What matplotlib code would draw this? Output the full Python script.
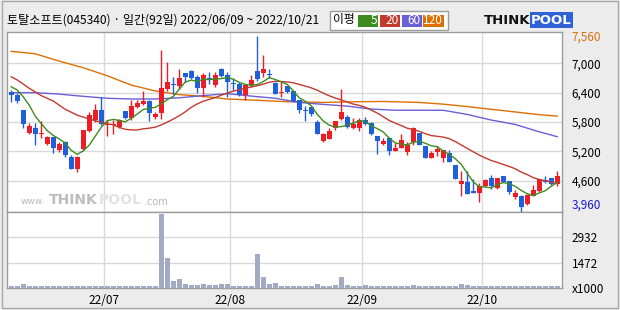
import numpy as np
import pandas as pd
import matplotlib
matplotlib.use('Agg')
import matplotlib.pyplot as plt
from matplotlib.patches import Rectangle

plt.rcParams['font.family'] = ['Noto Sans CJK KR', 'DejaVu Sans']

# --- data -------------------------------------------------------------
title = '토탈소프트(045340) · 일간(92일) 2022/06/09 ~ 2022/10/21'
holidays = ['2022-08-15', '2022-09-09', '2022-09-12', '2022-10-03', '2022-10-10']
dates = pd.bdate_range('2022-06-09', '2022-10-21')
dates = dates[~dates.isin(pd.to_datetime(holidays))]

opens = [6410, 6360, 6045, 5580, 5670, 5560, 5350, 5490, 5225, 5395,
         5085, 4835, 5245, 5615, 5840, 6040, 5740, 5740, 5690, 6025,
         5890, 6115, 6175, 6230, 5910, 5990, 6475, 6570, 6535, 6795,
         6840, 6725, 6490, 6700, 6555, 6875, 6760, 6605, 6570, 6350,
         6555, 6840, 6810, 6780, 6590, 6400, 6535, 6435, 6250, 6040,
         6105, 5805, 5410, 5450, 5685, 5860, 5900, 5670, 5685, 5835,
         5785, 5510, 5350, 5480, 5210, 5275, 5190, 5395, 5580, 5310,
         5070, 5190, 5055, 5165, 4920, 4535, 4565, 4395, 4355, 4490,
         4665, 4455, 4695, 4590, 4260, 4290, 4115, 4290, 4395, 4610,
         4655, 4530]
highs = [6455, 6400, 6045, 5785, 5785, 5820, 5510, 5500, 5395, 5410,
         5125, 5105, 5630, 5995, 6165, 6310, 5840, 5840, 5855, 6025,
         6240, 6240, 6435, 6250, 5995, 7280, 7035, 6725, 6885, 6795,
         6870, 6760, 6795, 6830, 6830, 6910, 6830, 6690, 6625, 6570,
         6760, 7560, 7170, 6875, 6625, 6625, 6535, 6435, 6250, 6125,
         6105, 5840, 5565, 5670, 5820, 6475, 5940, 5875, 5875, 5900,
         5805, 5510, 5480, 5500, 5375, 5555, 5395, 5695, 5585, 5310,
         5205, 5310, 5225, 5225, 4920, 4795, 4795, 4625, 4545, 4625,
         4715, 4660, 4695, 4590, 4410, 4305, 4320, 4510, 4635, 4695,
         4655, 4805]
lows = [6200, 6180, 5685, 5545, 5340, 5480, 5330, 5170, 5190, 5075,
        4845, 4785, 5225, 5600, 5805, 5740, 5510, 5545, 5670, 5855,
        5840, 6090, 6145, 5825, 5860, 5855, 6435, 6370, 6465, 6610,
        6670, 6400, 6315, 6570, 6520, 6725, 6315, 6455, 6330, 6240,
        6520, 6640, 6725, 6690, 6370, 6315, 6385, 6215, 5990, 5825,
        5930, 5555, 5395, 5450, 5635, 5840, 5670, 5655, 5615, 5740,
        5535, 5145, 5330, 5125, 5210, 5260, 5125, 5330, 5330, 5055,
        5055, 5105, 4985, 4985, 4635, 4290, 4325, 4355, 4170, 4475,
        4430, 4440, 4565, 4320, 4235, 3960, 4100, 4290, 4375, 4545,
        4510, 4495]
closes = [6345, 6220, 5765, 5715, 5560, 5580, 5500, 5275, 5355, 5130,
          4845, 5085, 5630, 5940, 6040, 5760, 5765, 5760, 5840, 5890,
          6125, 6190, 6230, 5975, 5970, 6495, 6615, 6555, 6705, 6715,
          6690, 6490, 6760, 6680, 6760, 6740, 6610, 6585, 6350, 6555,
          6660, 6670, 6890, 6760, 6370, 6410, 6420, 6230, 6045, 6015,
          5955, 5555, 5545, 5615, 5820, 5995, 5705, 5760, 5835, 5760,
          5555, 5415, 5415, 5210, 5275, 5430, 5330, 5670, 5330, 5070,
          5170, 5245, 5225, 4985, 4635, 4590, 4325, 4355, 4490, 4605,
          4490, 4645, 4580, 4375, 4340, 4065, 4305, 4410, 4625, 4565,
          4530, 4695]
# volume in thousands of shares
volumes = [136, 97, 213, 136, 136, 136, 136, 136, 97, 136,
           136, 97, 136, 136, 136, 136, 97, 97, 97, 136,
           136, 136, 136, 136, 97, 4300, 1725, 407, 504, 213,
           155, 155, 213, 155, 155, 213, 213, 97, 136, 136,
           136, 1958, 620, 213, 271, 136, 97, 136, 136, 136,
           97, 213, 97, 97, 155, 620, 155, 97, 97, 155,
           97, 97, 97, 97, 97, 97, 97, 155, 97, 97,
           97, 97, 97, 97, 97, 213, 155, 97, 97, 97,
           97, 97, 97, 97, 97, 97, 97, 97, 97, 97,
           97, 97]

# moving averages before their window fills
ma5_head = [6520, 6455, 6315, 6145]
ma20_head = [6725, 6660, 6575, 6490, 6415, 6340, 6285, 6230, 6145, 6060,
             6000, 5940, 5900, 5865, 5825, 5800, 5765, 5740, 5690]
# long moving averages at some days
ma60_day = [0, 4, 8, 12, 16, 20, 24, 28, 32, 36, 40, 44, 48, 52, 56, 60,
            64, 68, 72, 76, 80, 84, 88, 91]
ma60_val = [6400, 6400, 6370, 6325, 6285, 6270, 6270, 6295, 6340, 6380,
            6330, 6285, 6200, 6160, 6125, 6065, 6040, 6040, 6040, 5955,
            5840, 5750, 5600, 5500]
ma120_day = [0, 4, 8, 12, 16, 20, 24, 28, 32, 36, 40, 46, 52, 58, 62,
             68, 72, 76, 80, 84, 88, 91]
ma120_val = [7245, 7195, 7045, 6910, 6745, 6555, 6435, 6360, 6325, 6270,
             6250, 6215, 6200, 6215, 6220, 6200, 6165, 6115, 6060, 6005,
             5950, 5920]

price_ticks = [4600, 5200, 5800, 6400, 7000]
vol_ticks = [1472, 2932]
ma_names = ['5', '20', '60', '120']

# --- styling ----------------------------------------------------------
up_col, down_col = '#ee1c25', '#1f5fdc'
ma_cols = ['#3d8c1f', '#c23a2e', '#6a5fd6', '#dd7000']
grid_col = '#d9d9d9'
frame_col = '#9c9c9c'
W, H = 620, 310


def fx(px):
    return px / W


def fy(py):
    return 1 - py / H


fig = plt.figure(figsize=(6.2, 3.1), dpi=100, facecolor='#ececec')

ax = fig.add_axes([fx(7), fy(212), (562 - 7) / W, (212 - 32) / H])
axv = fig.add_axes([fx(7), fy(288), (562 - 7) / W, (288 - 212) / H], sharex=ax)

n = len(closes)
x = np.arange(n)
o = np.array(opens)
c = np.array(closes)
hi = np.array(highs)
lo = np.array(lows)
cols = np.where(c >= o, up_col, down_col)

# month boundaries
months = pd.Series(dates.month)
month_pos = [i - 0.5 for i in range(1, n) if months[i] != months[i - 1]]
month_lab = [dates[int(p + 0.5)].strftime('%y/%m') for p in month_pos]

# candles
ax.vlines(x, lo, hi, colors=cols, lw=1, zorder=3)
ax.bar(x, np.maximum(np.abs(c - o), 14), bottom=np.minimum(o, c), width=0.8,
       color=cols, linewidth=0, zorder=3)

# moving averages
cs = pd.Series(closes, dtype=float)
ma5 = cs.rolling(5).mean()
ma5.iloc[:4] = ma5_head
ma20 = cs.rolling(20).mean()
ma20.iloc[:19] = ma20_head
ax.plot(ma120_day, ma120_val, color=ma_cols[3], lw=1, zorder=2)
ax.plot(ma60_day, ma60_val, color=ma_cols[2], lw=1, zorder=2)
ax.plot(x, ma20, color=ma_cols[1], lw=1, zorder=4)
ax.plot(x, ma5, color=ma_cols[0], lw=1, zorder=4)

ax.set_xlim(-0.7, n - 0.2)
ax.set_ylim(3960, 7640)

# price axis labels on the right
yt = [3960] + price_ticks + [7560]
ax.set_yticks(yt, [f'{v:,}' for v in yt])
ax.set_xticks(month_pos)
ax.grid(True, color=grid_col, lw=1, zorder=0)
gl = ax.get_ygridlines()
gl[0].set_visible(False)
gl[-1].set_visible(False)
ax.tick_params(length=0, labelbottom=False, labelleft=False, right=True,
               labelright=True, left=False, pad=7, labelsize=8.5)
labs = ax.get_yticklabels()
labs[0].set_color('#1a1ad0')
labs[0].set_va('bottom')
labs[-1].set_color('#d8700f')

# volume
axv.bar(x, volumes, width=0.8, color='#a3abc4', linewidth=0, zorder=3)
axv.set_ylim(0, 4400)
axv.set_yticks([0] + vol_ticks, ['x1000'] + [str(v) for v in vol_ticks])
axv.set_xticks(month_pos, month_lab)
axv.grid(True, color=grid_col, lw=1, zorder=0)
axv.get_ygridlines()[0].set_visible(False)
axv.tick_params(length=0, left=False, labelleft=False, right=True,
                labelright=True, pad=7, labelsize=8.5)
axv.tick_params(axis='x', pad=4)

for a in (ax, axv):
    a.set_facecolor('white')
    for s in a.spines.values():
        s.set_color(frame_col)
        s.set_linewidth(1)

# watermark
ax.text(0.025, 0.06, 'www.', transform=ax.transAxes, fontsize=6.5,
        color='#b8b8b8', va='center', family='DejaVu Sans')
ax.text(0.075, 0.065, 'THINK', transform=ax.transAxes, fontsize=10,
        color='#bdbdbd', fontweight='bold', va='center', family='DejaVu Sans')
ax.text(0.165, 0.065, 'POOL', transform=ax.transAxes, fontsize=10,
        color='#e3e3e3', fontweight='bold', va='center', family='DejaVu Sans')
ax.text(0.247, 0.055, '.com', transform=ax.transAxes, fontsize=7,
        color='#b8b8b8', va='center', family='DejaVu Sans')

# title
fig.text(fx(7), fy(20), title, fontsize=8.7, va='center', ha='left',
         color='black')

# legend box
fig.patches.append(Rectangle((fx(330), fy(30)), (448 - 330) / W, 19 / H,
                             transform=fig.transFigure, facecolor='white',
                             edgecolor='#9c9c9c', lw=1))
fig.text(fx(333), fy(20), '이평', fontsize=8.5, va='center', ha='left')
box_x = [358, 380, 402, 423]
box_w = [20, 20, 20, 21]
for bx, bw, name, col in zip(box_x, box_w, ma_names, ma_cols):
    fig.patches.append(Rectangle((fx(bx), fy(27)), bw / W, 12 / H,
                                 transform=fig.transFigure, facecolor=col,
                                 edgecolor='none'))
    fig.text(fx(bx + bw - 1), fy(21), name, fontsize=8.5, color='white',
             ha='right', va='center')

# logo
fig.text(fx(530), fy(20), 'THINK', fontsize=9.5, fontweight='bold',
         ha='right', va='center', family='DejaVu Sans', color='#111111')
fig.text(fx(531), fy(20), 'POOL', fontsize=9.5, fontweight='bold',
         ha='left', va='center', family='DejaVu Sans', color='white',
         bbox=dict(boxstyle='square,pad=0.08', facecolor='#2f62d6',
                   edgecolor='none'))

# outer frame
fig.patches.append(Rectangle((fx(2), fy(308)), (618 - 2) / W, (308 - 1) / H,
                             transform=fig.transFigure, fill=False,
                             edgecolor='#a8a8a8', lw=1))

fig.savefig('out.png', dpi=100, facecolor=fig.get_facecolor())
